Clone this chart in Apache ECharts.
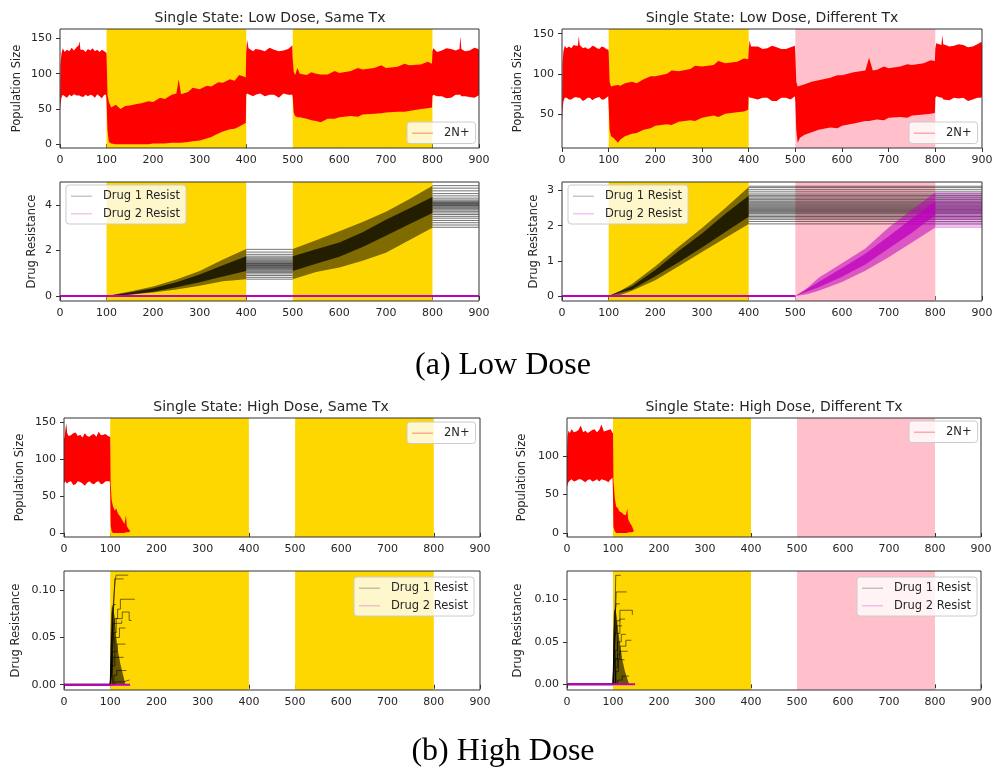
<!DOCTYPE html>
<html><head><meta charset="utf-8">
<script src="https://cdn.jsdelivr.net/npm/echarts@6/dist/echarts.min.js"></script>
<style>html,body{margin:0;padding:0;background:#fff}#c{width:997px;height:769px}</style>
</head><body><div id="c"></div>
<script>
// ---------------- data ----------------
const timeTicks = [0, 100, 200, 300, 400, 500, 600, 700, 800, 900];
const popTicks = [0, 50, 100, 150];
const popTicksLowDiff = [50, 100, 150];
const popTicksHighDiff = [0, 50, 100];
const resTicksLowSame = [0, 2, 4];
const resTicksLowDiff = [0, 1, 2, 3];
const resTicksHigh = [0, 0.05, 0.1];

// treatment windows [start, end]
const sameTxDrug1 = [[100, 400], [500, 800]];
const diffTxDrug1 = [[100, 400]];
const diffTxDrug2 = [[500, 800]];

// population envelopes [time, min, max]
const popLowSame = [
[0,48,50],[1,55,112],[3,66,128],[6,70,136],[10,68,131],[15,66,134],[20,70,132],[25,68,137],[30,71,133],[36,69,138],[40,69,140],[42,69,146],[44,68,134],[50,67,134],[55,70,131],[60,68,135],[65,70,133],[70,69,136],[75,66,132],[80,71,134],[85,68,131],[90,65,134],[95,70,132],[99,70,130],
[100,60,128],[102,20,70],[105,3,60],[110,1,52],[120,0,56],[130,0,50],[140,0,54],[150,0,55],[165,0,57],[175,0,58],[190,0,61],[200,1,60],[215,1,66],[225,1,64],[240,2,70],[250,2,72],[255,2,92],[260,2,71],[275,3,74],[285,4,80],[300,5,78],[315,8,83],[325,10,82],[340,15,88],[350,18,87],[365,21,92],[375,22,90],[385,25,98],[399,30,95],
[400,70,132],[402,72,148],[405,71,136],[415,68,132],[420,70,135],[430,72,134],[440,68,132],[450,70,137],[460,70,134],[470,66,132],[480,72,133],[490,70,135],[499,70,140],
[500,65,120],[502,45,103],[505,40,98],[510,38,108],[515,38,100],[530,36,98],[540,34,102],[550,33,100],[560,31,99],[575,36,99],[590,36,104],[600,38,101],[625,40,104],[640,39,108],[650,42,106],[675,43,108],[690,44,112],[700,45,108],[725,46,110],[740,46,114],[750,47,112],[775,50,113],[790,51,117],[799,52,114],
[800,68,132],[802,70,136],[810,68,131],[820,68,133],[830,65,136],[840,66,135],[850,70,133],[858,70,135],[860,70,153],[862,68,135],[870,68,132],[880,67,133],[890,66,137],[899,69,135],[900,70,132]
];
const popLowDiff = [
[0,40,45],[1,52,112],[3,65,128],[6,70,135],[10,70,132],[15,68,134],[20,68,132],[25,70,136],[30,71,135],[34,70,135],[36,70,147],[38,70,136],[45,66,132],[50,68,133],[55,70,131],[60,70,132],[65,67,135],[70,69,134],[75,70,132],[80,71,131],[85,68,134],[90,68,133],[95,70,131],[99,72,130],
[100,60,128],[102,30,90],[105,22,84],[110,20,85],[120,14,86],[125,18,85],[135,22,88],[150,25,90],[160,26,88],[175,30,93],[190,32,97],[200,35,97],[225,37,100],[235,36,104],[250,40,103],[275,42,106],[285,41,110],[300,45,109],[325,48,111],[335,46,116],[350,50,113],[375,52,115],[390,53,119],[399,55,118],
[400,72,130],[402,70,142],[405,70,134],[420,68,134],[430,70,131],[440,70,132],[450,66,135],[460,66,133],[470,70,131],[480,70,131],[490,68,133],[499,72,135],
[500,65,125],[502,30,90],[505,14,84],[510,20,85],[520,24,87],[535,27,90],[550,30,92],[575,33,95],[590,32,98],[600,35,98],[625,38,102],[650,41,104],[658,41,120],[666,42,104],[675,43,105],[690,42,109],[700,45,107],[725,46,109],[740,45,112],[750,48,111],[775,49,113],[790,50,117],[799,51,116],
[800,70,132],[802,72,138],[813,70,136],[815,70,148],[817,68,137],[830,67,134],[840,70,135],[850,69,137],[860,70,136],[870,66,133],[880,68,134],[890,70,137],[899,70,140],[900,72,135]
];
const popHighSame = [
[0,68,128],[1,68,128],[3,70,140],[5,68,148],[7,67,135],[10,69,131],[15,70,132],[20,65,135],[25,66,136],[30,70,131],[35,69,133],[40,67,129],[45,64,135],[50,68,131],[55,70,130],[60,67,133],[65,66,134],[70,69,130],[75,70,137],[80,66,132],[85,67,133],[90,70,134],[95,70,131],[99,70,130],
[100,55,130],[101,10,65],[103,2,45],[106,0,36],[110,0,30],[113,0,33],[117,0,26],[122,0,22],[127,0,16],[131,0,12],[134,1,24],[136,1,9],[140,1,5],[143,2,3]
];
const popHighDiff = [
[0,60,100],[1,62,125],[3,66,133],[6,68,130],[10,70,135],[15,67,131],[20,68,132],[25,70,134],[30,70,140],[35,68,131],[40,66,133],[45,69,130],[50,70,132],[55,67,134],[60,68,135],[65,70,131],[70,67,134],[75,70,141],[80,69,132],[85,68,133],[90,66,134],[95,70,135],[99,72,130],
[100,50,130],[101,8,68],[104,2,45],[107,0,34],[110,0,33],[114,0,28],[118,0,27],[123,0,24],[128,0,23],[131,0,32],[133,1,18],[137,1,13],[141,1,9],[145,2,3]
];

// drug resistance: spread of all runs and dense core [time, min, max]
const lowSameD1Spread = [[0,0,0],[100,0,0],[125,0.01,0.1],[150,0.05,0.2],[200,0.15,0.42],[250,0.28,0.72],[300,0.45,1.1],[350,0.65,1.6],[400,0.74,2.06]];
const lowSameD1Core = [[100,0,0],[150,0.07,0.15],[200,0.19,0.34],[250,0.38,0.6],[300,0.6,0.95],[350,0.86,1.35],[400,1.1,1.75]];
const lowSameD1Spread2 = [[500,0.74,2.06],[550,1.05,2.45],[600,1.25,2.85],[650,1.55,3.25],[700,1.9,3.7],[750,2.45,4.25],[800,3.0,4.85]];
const lowSameD1Core2 = [[500,1.1,1.75],[550,1.42,2.05],[600,1.72,2.35],[650,2.15,2.8],[700,2.65,3.35],[750,3.15,3.85],[800,3.65,4.35]];
const lowSameD1Hold1 = [0.74,0.82,0.9,0.97,1.03,1.08,1.13,1.17,1.21,1.25,1.28,1.31,1.34,1.37,1.4,1.43,1.46,1.5,1.54,1.58,1.63,1.68,1.75,1.83,1.93,2.05];
const lowSameD1Hold2 = [3.02,3.12,3.22,3.32,3.42,3.5,3.58,3.65,3.72,3.78,3.83,3.87,3.91,3.95,3.98,4.01,4.04,4.07,4.1,4.13,4.17,4.22,4.3,4.4,4.5,4.62,4.74,4.85];

const lowDiffD1Spread = [[0,0,0],[100,0,0],[125,0.03,0.15],[150,0.15,0.34],[200,0.45,0.85],[250,0.85,1.4],[300,1.25,1.93],[350,1.65,2.5],[400,2.05,3.1]];
const lowDiffD1Core = [[100,0,0],[150,0.19,0.28],[200,0.56,0.74],[250,0.96,1.28],[300,1.38,1.78],[350,1.82,2.34],[400,2.25,2.85]];
const lowDiffD1Hold = [2.05,2.12,2.18,2.22,2.26,2.3,2.34,2.37,2.4,2.43,2.46,2.49,2.52,2.55,2.58,2.61,2.64,2.67,2.7,2.74,2.78,2.82,2.86,2.9,2.96,3.02,3.08,3.12];
const lowDiffD2Spread = [[500,0,0],[525,0.05,0.22],[550,0.15,0.52],[600,0.4,0.93],[650,0.72,1.35],[700,1.1,1.95],[750,1.52,2.45],[800,1.95,2.95]];
const lowDiffD2Core = [[500,0,0],[550,0.25,0.4],[600,0.55,0.8],[650,0.9,1.2],[700,1.35,1.7],[750,1.8,2.2],[800,2.3,2.7]];
const lowDiffD2Hold = [1.96,2.02,2.08,2.13,2.18,2.22,2.26,2.3,2.34,2.38,2.42,2.46,2.5,2.54,2.58,2.62,2.66,2.7,2.75,2.8,2.86,2.92];

const highSameD1Column = [[100,0,0],[100.5,0,0.05],[102,0,0.075],[104,0,0.085],[107,0,0.08],[110,0,0.07],[113,0,0.05],[117,0,0.035],[122,0,0.022],[128,0,0.01],[133,0,0]];
const highSameD1Steps = [
 [[100,0],[102,0.02],[104,0.05],[106,0.08],[109,0.1],[111,0.112],[113,0.116],[139,0.116]],
 [[100,0],[103,0.03],[105,0.06],[108,0.09],[110,0.112],[129,0.112]],
 [[100,0],[103,0.025],[106,0.05],[110,0.07],[116,0.08],[122,0.0905],[153,0.0905]],
 [[100,0],[104,0.03],[108,0.055],[113,0.07],[126,0.077],[141,0.077],[141,0.068],[146,0.068]],
 [[100,0],[105,0.035],[110,0.05],[120,0.06],[133,0.06]],
 [[100,0],[104,0.02],[110,0.035],[115,0.043],[133,0.043]],
 [[100,0],[104,0.015],[106,0.029],[129,0.029]],
 [[100,0],[108,0.01],[114,0.015],[135,0.015]],
 [[100,0],[110,0.003],[128,0.005],[142,0.005]],
 [[100,0],[102,0.04],[105,0.075],[108,0.085],[112,0.085]],
 [[100,0],[103,0.05],[107,0.065],[117,0.065],[125,0.068]]
];
const highDiffD1Column = [[100,0,0],[100.5,0,0.06],[102,0,0.085],[105,0,0.09],[108,0,0.08],[112,0,0.06],[116,0,0.045],[120,0,0.03],[126,0,0.015],[132,0,0.005],[135,0,0]];
const highDiffD1Steps = [
 [[100,0],[102,0.03],[104,0.07],[105,0.1],[106,0.1286],[117,0.1286]],
 [[100,0],[103,0.04],[105,0.08],[107,0.109],[130,0.109]],
 [[100,0],[104,0.05],[108,0.075],[115,0.0874],[142,0.0874],[142,0.082]],
 [[100,0],[105,0.04],[110,0.06],[115,0.077],[126,0.077]],
 [[100,0],[104,0.03],[110,0.05],[118,0.059],[128,0.059]],
 [[100,0],[106,0.03],[115,0.045],[128,0.052],[140,0.052]],
 [[100,0],[105,0.02],[110,0.035],[115,0.039],[132,0.039]],
 [[100,0],[106,0.015],[112,0.029],[125,0.029]],
 [[100,0],[110,0.005],[120,0.0097],[135,0.0097]],
 [[100,0],[102,0.05],[104,0.085],[107,0.095],[115,0.095]],
 [[100,0],[103,0.06],[108,0.069],[120,0.069]]
];

// resistance that stays at zero [time, value]
const d1ZeroUntilDose = [[0,0],[100,0]];
const lowSameD2Zero = [[0,0],[900,0]];
const lowDiffD2Zero = [[0,0],[500,0]];
const highSameD2Zero = [[0,0],[143,0]];
const highDiffD2Zero = [[0,0],[148,0]];

// ---------------- chart ----------------
const FONT = 'DejaVu Sans';
const GOLD = '#ffd700', PINK = '#ffc0cb', RED = '#ff0000', MAG = '#bf00bf';
const TXT = '#262626';
const TICK_FS = 11, LABEL_FS = 11.5;
const series = [];

function addBg(g, windows, color) {
  series.push({type:'custom', xAxisIndex:g, yAxisIndex:g, z:1, silent:true, data:windows,
    renderItem(params, api) {
      const cs = params.coordSys;
      const a = api.coord([api.value(0), 0])[0];
      const b = api.coord([api.value(1), 0])[0];
      return {type:'rect', shape:{x:a, y:cs.y, width:b-a, height:cs.height}, style:{fill:color}};
    }});
}
function addBand(g, data, color, name, z) {
  series.push({type:'custom', name, xAxisIndex:g, yAxisIndex:g, z, silent:true, data,
    encode:{x:0, y:[1,2]},
    renderItem(params, api) {
      if (params.dataIndex !== 0) return null;
      const top = data.map(d => api.coord([d[0], d[2]]));
      const bot = data.map(d => api.coord([d[0], d[1]])).reverse();
      return {type:'polygon', shape:{points: top.concat(bot)}, style:{fill:color}};
    }});
}
function addHolds(g, x0, x1, levels, color, name, z) {
  series.push({type:'custom', name, xAxisIndex:g, yAxisIndex:g, z, silent:true,
    data: levels.map(v => [x0, x1, v]), encode:{x:[0,1], y:2},
    renderItem(params, api) {
      const p0 = api.coord([api.value(0), api.value(2)]);
      const p1 = api.coord([api.value(1), api.value(2)]);
      return {type:'line', shape:{x1:p0[0], y1:p0[1], x2:p1[0], y2:p1[1]}, style:{stroke:color, lineWidth:1}};
    }});
}
function addLine(g, pts, color, width, z, name, step) {
  series.push({type:'line', name, xAxisIndex:g, yAxisIndex:g, data:pts, showSymbol:false, symbol:'none',
    step: step || false, lineStyle:{color, width}, itemStyle:{color}, z, silent:true});
}

// backgrounds
[0,1,4,5].forEach(g => addBg(g, sameTxDrug1, GOLD));
[2,3,6,7].forEach(g => { addBg(g, diffTxDrug1, GOLD); addBg(g, diffTxDrug2, PINK); });

// population
addBand(0, popLowSame, RED, '2N+', 2);
addBand(2, popLowDiff, RED, '2N+', 2);
addBand(4, popHighSame, RED, '2N+', 2);
addBand(6, popHighDiff, RED, '2N+', 2);

const D1A = 'rgba(0,0,0,0.5)', D1B = 'rgba(0,0,0,0.72)', D1H = 'rgba(0,0,0,0.55)';
const D2A = 'rgba(191,0,191,0.55)', D2B = 'rgba(191,0,191,0.75)', D2H = 'rgba(191,0,191,0.55)';

// low dose same
addBand(1, lowSameD1Spread, D1A, 'Drug 1 Resist', 2);
addBand(1, lowSameD1Core, D1B, 'Drug 1 Resist', 3);
addBand(1, lowSameD1Spread2, D1A, 'Drug 1 Resist', 2);
addBand(1, lowSameD1Core2, D1B, 'Drug 1 Resist', 3);
addHolds(1, 400, 500, lowSameD1Hold1, D1H, 'Drug 1 Resist', 3);
addHolds(1, 800, 900, lowSameD1Hold2, D1H, 'Drug 1 Resist', 3);
addLine(1, d1ZeroUntilDose, '#000', 2, 4, 'Drug 1 Resist');
addLine(1, lowSameD2Zero, MAG, 2, 5, 'Drug 2 Resist');

// low dose different
addBand(3, lowDiffD1Spread, D1A, 'Drug 1 Resist', 2);
addBand(3, lowDiffD1Core, D1B, 'Drug 1 Resist', 3);
addHolds(3, 400, 900, lowDiffD1Hold, D1H, 'Drug 1 Resist', 3);
addBand(3, lowDiffD2Spread, D2A, 'Drug 2 Resist', 4);
addBand(3, lowDiffD2Core, D2B, 'Drug 2 Resist', 4);
addHolds(3, 800, 900, lowDiffD2Hold, D2H, 'Drug 2 Resist', 4);
addLine(3, d1ZeroUntilDose, '#000', 2, 4, 'Drug 1 Resist');
addLine(3, lowDiffD2Zero, MAG, 2, 5, 'Drug 2 Resist');

// high dose same
addBand(5, highSameD1Column, 'rgba(0,0,0,0.6)', 'Drug 1 Resist', 2);
highSameD1Steps.forEach(t => addLine(5, t, 'rgba(0,0,0,0.7)', 0.8, 3, 'Drug 1 Resist', 'end'));
addLine(5, d1ZeroUntilDose, '#000', 2, 4, 'Drug 1 Resist');
addLine(5, highSameD2Zero, MAG, 2, 5, 'Drug 2 Resist');

// high dose different
addBand(7, highDiffD1Column, 'rgba(0,0,0,0.6)', 'Drug 1 Resist', 2);
highDiffD1Steps.forEach(t => addLine(7, t, 'rgba(0,0,0,0.7)', 0.8, 3, 'Drug 1 Resist', 'end'));
addLine(7, d1ZeroUntilDose, '#000', 2, 4, 'Drug 1 Resist');
addLine(7, highDiffD2Zero, MAG, 2, 5, 'Drug 2 Resist');

// layout
const grids = [
  {left:60, top:29, width:419, height:119},
  {left:60, top:182, width:419, height:119},
  {left:562, top:29, width:420, height:119},
  {left:562, top:182, width:420, height:119},
  {left:64, top:418, width:416, height:119},
  {left:64, top:571, width:416, height:119},
  {left:567, top:418, width:414, height:119},
  {left:567, top:571, width:414, height:119}
].map(g => Object.assign(g, {show:true, z:10, backgroundColor:'transparent', borderColor:'#333', borderWidth:1, containLabel:false}));

const xAxes = grids.map((g, i) => ({type:'value', gridIndex:i, min:0, max:900, interval:100,
  axisLine:{show:false}, splitLine:{show:false},
  axisTick:{show:true, length:4, lineStyle:{color:'#333'}},
  axisLabel:{fontSize:TICK_FS, fontFamily:FONT, color:TXT, margin:7}}));

function yAx(i, min, max, ticks, name, gap, dec) {
  return {type:'value', gridIndex:i, min, max, name, nameLocation:'middle', nameGap:gap,
    nameTextStyle:{fontSize:LABEL_FS, fontFamily:FONT, color:TXT},
    axisLine:{show:false}, splitLine:{show:false},
    axisTick:{show:true, length:4, customValues:ticks, lineStyle:{color:'#333'}},
    axisLabel:{customValues:ticks, fontSize:TICK_FS, fontFamily:FONT, color:TXT, margin:8,
      formatter: v => dec ? Number(v).toFixed(dec) : String(Math.round(v))}};
}
const yAxes = [
  yAx(0, -5.5, 163.5, popTicks, 'Population Size', 37),
  yAx(1, -0.22, 5.01, resTicksLowSame, 'Drug Resistance', 22),
  yAx(2, 7.3, 155.9, popTicksLowDiff, 'Population Size', 38),
  yAx(3, -0.14, 3.24, resTicksLowDiff, 'Drug Resistance', 22),
  yAx(4, -5.5, 155.5, popTicks, 'Population Size', 38),
  yAx(5, -0.0056, 0.1204, resTicksHigh, 'Drug Resistance', 42, 2),
  yAx(6, -5.2, 149.6, popTicksHighDiff, 'Population Size', 39),
  yAx(7, -0.0067, 0.1337, resTicksHigh, 'Drug Resistance', 43, 2)
];

function leg(left, top, names, colors) {
  return {left, top, orient:'vertical', selectedMode:false, itemWidth:21, itemHeight:1.5, itemGap:5,
    padding:[5,6,4,5], backgroundColor:'rgba(255,255,255,0.8)', borderColor:'#cccccc', borderWidth:1, borderRadius:3,
    textStyle:{fontSize:LABEL_FS, fontFamily:FONT, color:TXT, lineHeight:12.5, padding:[0,0,0,6]},
    data: names.map((n, k) => ({name:n, icon:'rect', itemStyle:{color:colors[k], borderWidth:0}}))};
}
const popLegend = ['2N+'], popLegendColors = ['rgba(255,0,0,0.3)'];
const resLegend = ['Drug 1 Resist', 'Drug 2 Resist'], resLegendColors = ['rgba(0,0,0,0.22)', 'rgba(191,0,191,0.22)'];
const legends = [
  leg(407, 122, popLegend, popLegendColors),
  leg(909, 122, popLegend, popLegendColors),
  leg(407, 422, popLegend, popLegendColors),
  leg(909, 421, popLegend, popLegendColors),
  leg(66, 185, resLegend, resLegendColors),
  leg(568, 185, resLegend, resLegendColors),
  leg(354, 577, resLegend, resLegendColors),
  leg(857, 577, resLegend, resLegendColors)
];

function txt(x, y, text, font, fill) {
  return {type:'text', x, y, silent:true,
    style:{text, font, fill, align:'center', verticalAlign:'middle', textAlign:'center', textVerticalAlign:'middle'}};
}
const titleFont = '14px "DejaVu Sans"';
const capFont = '32px "Liberation Serif"';
const graphic = [
  txt(270, 18, 'Single State: Low Dose, Same Tx', titleFont, TXT),
  txt(772, 18, 'Single State: Low Dose, Different Tx', titleFont, TXT),
  txt(271, 407, 'Single State: High Dose, Same Tx', titleFont, TXT),
  txt(774, 407, 'Single State: High Dose, Different Tx', titleFont, TXT),
  txt(503, 366, '(a) Low Dose', capFont, '#000'),
  txt(503, 752, '(b) High Dose', capFont, '#000')
];

const chart = echarts.init(document.getElementById('c'), null, {renderer:'canvas'});
chart.setOption({
  animation:false, backgroundColor:'#fff',
  textStyle:{fontFamily:FONT},
  grid: grids, xAxis: xAxes, yAxis: yAxes, legend: legends, series, graphic
});
</script></body></html>
